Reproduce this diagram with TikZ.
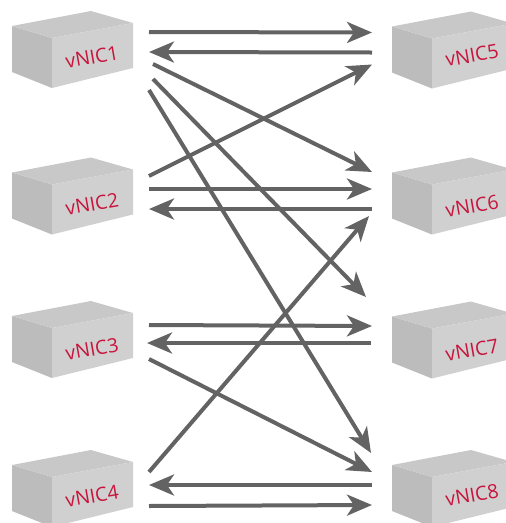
\documentclass[tikz,border=0pt]{standalone}
\usepackage{fontspec}
\setmainfont{Open Sans}
\usetikzlibrary{arrows.meta}
\definecolor{boxtop}{HTML}{C8C8C8}
\definecolor{boxleft}{HTML}{BCBCBC}
\definecolor{boxfront}{HTML}{D0D0D0}
\definecolor{niclabel}{HTML}{C8143C}
\definecolor{pfeil}{HTML}{636363}
\tikzset{
  niclabel/.style={text=niclabel, rotate=10, inner sep=0pt, font=\fontsize{19.5}{19.5}\selectfont},
  pfeil/.style={->, draw=pfeil, line width=4pt},
}
\begin{document}
\begin{tikzpicture}[x=1pt, y=-1pt, >={Stealth[length=25pt,width=21pt,inset=7pt]}]
    \useasboundingbox (0,0) rectangle (506,523);
    \clip (0,0) rectangle (506,523);

    % Boxen
    \foreach \x/\y/\ty/\n in {12/26/31/1, 12/172.5/31.5/2, 12/316/33/3, 12/465/31/4, 392/26.5/29/5, 392/172.5/33.5/6, 392/316.5/33.5/7, 392/465/30/8} {
        \fill[boxleft] (\x,\y) -- ++(40,12) -- ++(0,50) -- ++(-40,-16) -- cycle;
        \fill[boxtop] (\x,\y) -- ++(79,-15) -- ++(42,12) -- ++(-81,15) -- cycle;
        \fill[boxfront] (\x,\y) ++(40,12) -- ++(81,-15) -- ++(0,45) -- ++(-81,20) -- cycle;
        \node[niclabel] (vnic\n) at (\x+80,\y+\ty) {vNIC\n};
    }

    % Pfeile von vNIC1
    \draw[pfeil] ([shift={(57,-25)}]vnic1.center) -- ([shift={(-100,-23)}]vnic5.center);
    \draw[pfeil] ([shift={(-100,-3)}]vnic5.center) -- ([shift={(57,-5)}]vnic1.center);
    \draw[pfeil] ([shift={(61,7)}]vnic1.center) -- ([shift={(-100,-34)}]vnic6.center);
    \draw[pfeil] ([shift={(61,22)}]vnic1.center) -- ([shift={(-106,-53)}]vnic7.center);
    \draw[pfeil] ([shift={(57,33)}]vnic1.center) -- ([shift={(-101,-42)}]vnic8.center);

    % Pfeile von vNIC2
    \draw[pfeil] ([shift={(57,-28)}]vnic2.center) -- ([shift={(-100,9)}]vnic5.center);
    \draw[pfeil] ([shift={(57,-15)}]vnic2.center) -- ([shift={(-100,-17)}]vnic6.center);
    \draw[pfeil] ([shift={(-100,3)}]vnic6.center) -- ([shift={(57,5)}]vnic2.center);

    % Pfeile von vNIC3
    \draw[pfeil] ([shift={(57,-24)}]vnic3.center) -- ([shift={(-100,-24)}]vnic7.center);
    \draw[pfeil] ([shift={(-101,-7)}]vnic7.center) -- ([shift={(55,-6)}]vnic3.center);
    \draw[pfeil] ([shift={(57,10)}]vnic3.center) -- ([shift={(-100,-23)}]vnic8.center);

    % Pfeile von vNIC4
    \draw[pfeil] ([shift={(57,-24)}]vnic4.center) -- ([shift={(-103,10)}]vnic6.center);
    \draw[pfeil] ([shift={(-100,-10)}]vnic8.center) -- ([shift={(57,-11)}]vnic4.center);
    \draw[pfeil] ([shift={(57,10)}]vnic4.center) -- ([shift={(-100,10)}]vnic8.center);
\end{tikzpicture}
\end{document}
